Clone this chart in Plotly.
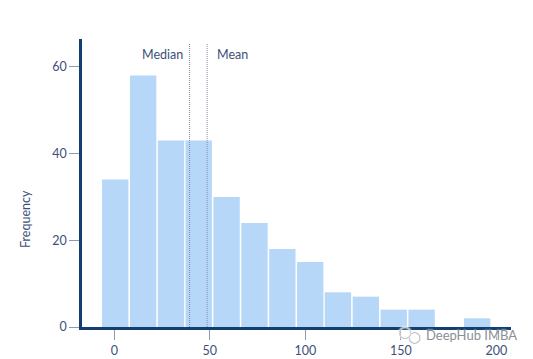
import plotly.graph_objects as go

bin_centers = [0.5, 15.1, 29.7, 44.2, 58.8, 73.4, 88.0, 102.6, 117.1, 131.7, 146.3, 160.9, 175.5, 190.0]
frequency = [34, 58, 43, 43, 30, 24, 18, 15, 8, 7, 4, 4, 0, 2]
x_ticks = [0, 50, 100, 150, 200]
y_ticks = [0, 20, 40, 60]
median_value = 39.4
mean_value = 48.6

NAVY = "#123f70"
TEXT = "#3d5079"
FONT = "Lato"

fig = go.Figure(go.Bar(x=bin_centers, y=frequency, width=13.8,
                       marker=dict(color="#b6d7f7", line=dict(width=0))))

for v in (median_value, mean_value):
    fig.add_shape(type="line", x0=v, x1=v, y0=0, y1=0.985, xref="x", yref="paper",
                  line=dict(color="#7f8ea6", width=1, dash="1px,1px"), layer="above")

fig.add_annotation(x=median_value, y=0.947, xref="x", yref="paper", text="Median",
                   showarrow=False, xanchor="right", xshift=-5, yanchor="middle",
                   font=dict(family=FONT, size=12.5, color=TEXT))
fig.add_annotation(x=mean_value, y=0.947, xref="x", yref="paper", text="Mean",
                   showarrow=False, xanchor="left", xshift=8, yanchor="middle",
                   font=dict(family=FONT, size=12.5, color=TEXT))
fig.add_annotation(xref="paper", yref="paper", x=0, xshift=-57, y=0.375, text="Frequency",
                   showarrow=False, textangle=-90, xanchor="center", yanchor="middle",
                   font=dict(family=FONT, size=12.5, color=TEXT))

# watermark
halo = "0 0 2px #ffffff, 0 0 2px #ffffff"
fig.add_annotation(xref="paper", yref="paper", x=1.0, y=-0.028, xanchor="right", yanchor="middle",
                   text="DeepHub IMBA", showarrow=False, xshift=8,
                   font=dict(family=FONT, size=13, color="#8a8f96", shadow=halo))
fig.add_annotation(xref="paper", yref="paper", x=0.774, y=-0.033, xanchor="center", yanchor="middle",
                   text="○", showarrow=False,
                   font=dict(family="DejaVu Sans", size=15, color="#aeb2b7", shadow=halo))
fig.add_annotation(xref="paper", yref="paper", x=0.753, y=-0.016, xanchor="center", yanchor="middle",
                   text="○", showarrow=False,
                   font=dict(family="DejaVu Sans", size=16, color="#c8cbcf", shadow=halo))

fig.update_layout(
    width=525, height=351,
    margin=dict(l=74, r=22, t=31, b=32, autoexpand=False),
    paper_bgcolor="white", plot_bgcolor="white",
    showlegend=False,
    font=dict(family=FONT, size=12.5, color=TEXT),
    xaxis=dict(range=[-16.9, 207.7], tickvals=x_ticks, ticks="outside", ticklen=10, tickwidth=1,
               tickcolor="#8d9ab0", showgrid=False, zeroline=False, showline=True,
               linecolor=NAVY, linewidth=2.5, layer="above traces",
               tickfont=dict(family=FONT, size=12.5, color=TEXT)),
    yaxis=dict(range=[0, 66.4], tickvals=y_ticks, ticks="outside", ticklen=10, tickwidth=1,
               tickcolor="#8d9ab0", showgrid=False, zeroline=False, showline=True,
               linecolor=NAVY, linewidth=2.5, layer="above traces",
               tickfont=dict(family=FONT, size=12.5, color=TEXT)),
)

fig.write_html("out.html")
